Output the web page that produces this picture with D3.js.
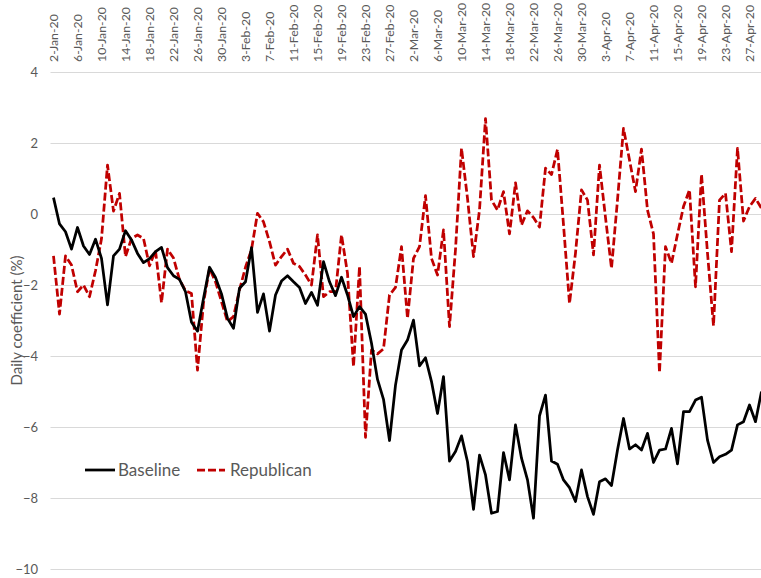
<!DOCTYPE html>
<html>
<head>
<meta charset="utf-8">
<script src="https://cdn.jsdelivr.net/npm/d3@7"></script>
<style>
  html, body { margin: 0; padding: 0; background: #fff; }
  svg { display: block; font-family: Lato, "Open Sans", sans-serif; }
</style>
</head>
<body>
<svg id="chart" width="761" height="578"></svg>
<script>
// ---- data ----
const startDate = new Date(Date.UTC(2020, 0, 2));
const dates = d3.utcDay.range(startDate, new Date(Date.UTC(2020, 3, 30))); // 2-Jan-20 .. 29-Apr-20

const baseline = [
  0.46, -0.28, -0.50, -0.99, -0.38, -0.90, -1.14, -0.71, -1.25, -2.56,
  -1.18, -0.99, -0.47, -0.73, -1.11, -1.37, -1.26, -1.06, -0.94, -1.51,
  -1.74, -1.84, -2.19, -3.05, -3.30, -2.38, -1.50, -1.79, -2.25, -2.94,
  -3.22, -2.09, -1.91, -0.95, -2.77, -2.25, -3.30, -2.28, -1.89, -1.74,
  -1.91, -2.07, -2.52, -2.21, -2.57, -1.34, -1.91, -2.30, -1.78, -2.28,
  -2.89, -2.61, -2.82, -3.64, -4.66, -5.22, -6.38, -4.82, -3.83, -3.55,
  -2.99, -4.28, -4.05, -4.72, -5.62, -4.58, -6.96, -6.69, -6.25, -6.98,
  -8.32, -6.79, -7.35, -8.43, -8.38, -6.72, -7.49, -5.94, -6.88, -7.49,
  -8.57, -5.69, -5.10, -6.96, -7.05, -7.49, -7.71, -8.10, -7.21, -7.96,
  -8.46, -7.54, -7.46, -7.65, -6.65, -5.76, -6.62, -6.50, -6.65, -6.18,
  -7.00, -6.65, -6.62, -6.04, -7.04, -5.57, -5.57, -5.24, -5.16, -6.37,
  -7.00, -6.84, -6.77, -6.65, -5.94, -5.85, -5.38, -5.85, -5.00
];

const republican = [
  -1.18, -2.82, -1.18, -1.44, -2.19, -2.00, -2.33, -1.60, -0.70, 1.38,
  0.08, 0.58, -1.20, -0.69, -0.59, -0.69, -1.46, -1.03, -2.50, -0.99,
  -1.24, -1.85, -2.16, -2.24, -4.40, -2.50, -1.53, -1.91, -2.47, -3.03,
  -2.89, -2.14, -1.50, -1.00, 0.02, -0.22, -0.78, -1.44, -1.20, -0.99,
  -1.39, -1.48, -1.72, -2.00, -0.59, -2.33, -2.19, -2.19, -0.59, -1.67,
  -4.30, -1.48, -6.29, -3.83, -3.94, -3.80, -2.28, -2.07, -0.92, -2.94,
  -1.25, -0.92, 0.52, -1.25, -1.72, -0.45, -3.17, -1.00, 1.85, 0.44,
  -1.20, 0.11, 2.69, 0.39, 0.11, 0.63, -0.56, 0.88, -0.31, 0.09,
  -0.10, -0.37, 1.29, 1.11, 1.82, -0.30, -2.52, -1.10, 0.68, 0.39,
  -1.15, 1.38, -0.10, -1.53, 0.40, 2.41, 1.52, 0.63, 1.83, 0.11,
  -0.56, -4.47, -0.92, -1.39, -0.57, 0.21, 0.68, -2.05, 1.12, -1.10,
  -3.15, 0.39, 0.58, -1.06, 1.85, -0.20, 0.21, 0.44, 0.16
];

const yTicks = [-10, -8, -6, -4, -2, 0, 2, 4];
const tickDates = dates.filter((d, i) => i % 4 === 0);
const seriesNames = ["Baseline", "Republican"];
const yTitle = "Daily coefficient (%)";

// ---- layout ----
const svg = d3.select("#chart");
const plotLeft = 50.5, plotRight = 764.5, plotTop = 72, plotBottom = 569;
const textColor = "#595959";

const x = d3.scaleBand().domain(dates).range([plotLeft, plotRight]).paddingInner(0).paddingOuter(0);
const xc = d => x(d) + x.bandwidth() / 2;
const y = d3.scaleLinear().domain([-10, 4]).range([plotBottom, plotTop]);

// gridlines + y labels
const yAxis = svg.append("g")
  .attr("transform", `translate(${plotLeft},0)`)
  .call(d3.axisLeft(y).tickValues(yTicks).tickSize(-(plotRight - plotLeft)).tickPadding(12.5).tickFormat(d3.format("d")));
yAxis.select(".domain").remove();
yAxis.selectAll(".tick line").attr("stroke", "#d9d9d9").attr("stroke-width", 1);
yAxis.selectAll(".tick text").attr("fill", textColor).style("font-size", "13px").style("font-family", "Lato, sans-serif");

// x labels at top
const xAxis = svg.append("g")
  .attr("transform", `translate(0,62)`)
  .call(d3.axisTop(x).tickValues(tickDates).tickSize(0).tickPadding(0).tickFormat(d3.utcFormat("%-d-%b-%y")));
xAxis.select(".domain").remove();
xAxis.selectAll(".tick text")
  .attr("transform", "rotate(-90)")
  .attr("text-anchor", "start")
  .attr("x", 0).attr("y", 0).attr("dy", "0.35em")
  .attr("fill", textColor)
  .style("font-size", "12.3px").style("font-family", "Lato, sans-serif");

// y title
svg.append("text")
  .attr("transform", `translate(17,${(plotTop + plotBottom) / 2}) rotate(-90)`)
  .attr("text-anchor", "middle").attr("dy", "0.35em")
  .attr("fill", textColor).style("font-size", "15px")
  .text(yTitle);

// lines
const line = d3.line().x((d, i) => xc(dates[i])).y(d => y(d));
svg.append("path").datum(republican)
  .attr("fill", "none").attr("stroke", "#c00000").attr("stroke-width", 2.75)
  .attr("stroke-dasharray", "8,3").attr("stroke-linejoin", "round")
  .attr("d", line);
svg.append("path").datum(baseline)
  .attr("fill", "none").attr("stroke", "#000").attr("stroke-width", 2.75)
  .attr("stroke-linejoin", "round")
  .attr("d", line);

// legend
const legend = svg.append("g");
const leg = [
  { name: seriesNames[0], color: "#000", dash: null, x0: 85, x1: 115, tx: 118 },
  { name: seriesNames[1], color: "#c00000", dash: "8,3", x0: 197, x1: 225, tx: 230 }
];
leg.forEach(l => {
  legend.append("line").attr("x1", l.x0).attr("x2", l.x1).attr("y1", 470).attr("y2", 470)
    .attr("stroke", l.color).attr("stroke-width", 2.75).attr("stroke-dasharray", l.dash);
  legend.append("text").attr("x", l.tx).attr("y", 470).attr("dy", "0.35em")
    .attr("fill", textColor).style("font-size", "17px").text(l.name);
});
</script>
</body>
</html>
